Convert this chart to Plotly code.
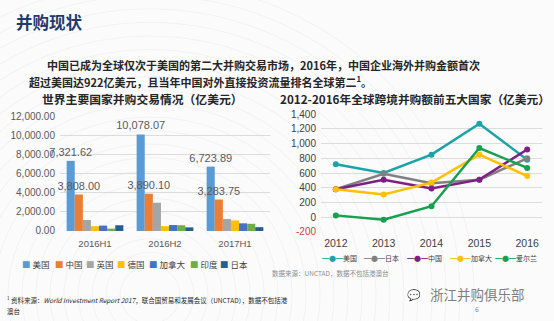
import plotly.graph_objects as go

# ---- data ----
periods = ["2016H1", "2016H2", "2017H1"]
bar_countries = ["美国", "中国", "英国", "德国", "加拿大", "印度", "日本"]
bar_values = {
    "美国": [7321.62, 10078.07, 6723.89],
    "中国": [3808.00, 3890.10, 3283.75],
    "英国": [1150, 2950, 1250],
    "德国": [500, 500, 1100],
    "加拿大": [560, 620, 800],
    "印度": [250, 600, 750],
    "日本": [600, 380, 400],
}
bar_colors = ["#5b9bd5", "#ed7d31", "#a5a5a5", "#ffc000", "#4472c4", "#70ad47", "#255e91"]
labelled = ["美国", "中国"]

years = ["2012", "2013", "2014", "2015", "2016"]
line_countries = ["美国", "日本", "中国", "加拿大", "爱尔兰"]
line_values = {
    "美国": [720, 600, 850, 1270, 780],
    "日本": [380, 590, 460, 510, 800],
    "中国": [380, 510, 390, 510, 920],
    "加拿大": [380, 310, 470, 850, 560],
    "爱尔兰": [25, -35, 150, 940, 670],
}
line_colors = ["#1ba3a8", "#808080", "#7e1f86", "#ffc000", "#17a050"]
y2_ticks = [-200, 0, 200, 400, 600, 800, 1000, 1200, 1400]

W, H = 554, 321
CJK = "Noto Sans CJK SC"
NUM = "Liberation Sans"

fig = go.Figure()

# faint decorative arcs in the background
for r in range(30, 330, 14):
    fig.add_shape(type="circle", xref="paper", yref="paper", layer="below",
                  x0=(150 - r) / W, x1=(150 + r) / W, y0=1 - (300 + r) / H, y1=1 - (300 - r) / H,
                  line=dict(color="rgba(170,170,170,0.12)", width=1))

for c, col in zip(bar_countries, bar_colors):
    show_text = c in labelled
    fig.add_trace(go.Bar(
        x=periods, y=bar_values[c], name=c, marker_color=col, marker_line_width=0,
        text=[f"{v:,.2f}" for v in bar_values[c]] if show_text else None,
        textposition="outside" if show_text else "none",
        constraintext="none", textangle=0,
        textfont=dict(size=11, color="#595959", family=NUM),
        cliponaxis=False, xaxis="x", yaxis="y", showlegend=False,
    ))

for c, col in zip(line_countries, line_colors):
    fig.add_trace(go.Scatter(
        x=years, y=line_values[c], name=c, mode="lines+markers",
        line=dict(color=col, width=2.5), marker=dict(size=6, color=col),
        xaxis="x2", yaxis="y2", showlegend=False, cliponaxis=False,
    ))

fig.update_layout(
    width=W, height=H, margin=dict(l=0, r=0, t=0, b=0),
    paper_bgcolor="#fbfbfb", plot_bgcolor="rgba(0,0,0,0)",
    barmode="group", bargap=0.19, bargroupgap=0,
    font=dict(family=CJK, color="#595959"),
    xaxis=dict(domain=[60/W, 270/W], anchor="y", showline=False, ticks="",
               tickfont=dict(size=9.5, color="#595959", family=NUM),
               showgrid=False, ticklabelstandoff=6),
    yaxis=dict(domain=[1-234/H, 1-115/H], anchor="x", range=[0, 12000],
               dtick=2000, tickformat=",.2f", gridcolor="#dcdcdc",
               tickfont=dict(size=10, color="#595959", family=NUM),
               zeroline=False, ticklabelstandoff=4),
    xaxis2=dict(domain=[321/W, 542/W], anchor="y2", showgrid=False, ticks="",
                tickfont=dict(size=10.5, color="#404040", family=NUM),
                ticklabelstandoff=4),
    yaxis2=dict(domain=[1-235/H, 1-113/H], anchor="x2", range=[-200, 1400],
                tickvals=y2_ticks,
                ticktext=[f"<span style='color:#d0403a'>{v:,}</span>" if v < 0 else f"{v:,}" for v in y2_ticks],
                gridcolor="#dcdcdc", zeroline=False, ticklabelstandoff=4,
                tickfont=dict(size=10, color="#404040", family=NUM)),
)

def txt(x, y, s, size, color="#262626", bold=False, anchor="left", family=CJK):
    fig.add_annotation(x=x/W, y=1-y/H, xref="paper", yref="paper", text=f"<b>{s}</b>" if bold else s,
                       showarrow=False, xanchor=anchor, yanchor="middle",
                       font=dict(size=size, color=color, family=family))

# manual legends
left_leg_x = [20, 53, 84, 115, 147, 188, 218]
for x, c, col in zip(left_leg_x, bar_countries, bar_colors):
    txt(x, 268, f"<span style='color:{col}'>■</span> {c}", 8.5, color="#404040")
right_leg_x = [320, 362, 405, 448, 493]
for x, c, col in zip(right_leg_x, line_countries, line_colors):
    txt(x, 262, f"<span style='color:{col}'>━●━</span>{c}", 7, color="#404040")

txt(14, 18, "并购现状", 16.5, color="#1f3a6e", bold=True)
txt(45, 62, "中国已成为全球仅次于美国的第二大并购交易市场，2016年，中国企业海外并购金额首次", 11, bold=True)
txt(27, 79, "超过美国达922亿美元，且当年中国对外直接投资流量排名全球第二<sup>1</sup>。", 11, bold=True)
txt(40, 97, "世界主要国家并购交易情况（亿美元）", 11.8, bold=True)
txt(278, 97, "2012-2016年全球跨境并购额前五大国家（亿美元）", 11.7, bold=True)
txt(270, 278, "数据来源：UNCTAD，数据不包括港澳台", 6.5, color="#8c8c8c")
txt(428, 299, "浙江并购俱乐部", 13.5, color="#7f7f7f")
txt(405, 299, "💬", 11, color="#9a9a9a")
txt(477, 315, "6", 7, color="#8c8c8c", anchor="center")
txt(5, 305, "<sup>1</sup> 资料来源：<i>World Investment Report 2017</i>，联合国贸易和发展会议（UNCTAD），数据不包括港", 6.5, color="#262626")
txt(5, 317, "澳台", 6.5, color="#262626")

fig.write_html("out.html")
